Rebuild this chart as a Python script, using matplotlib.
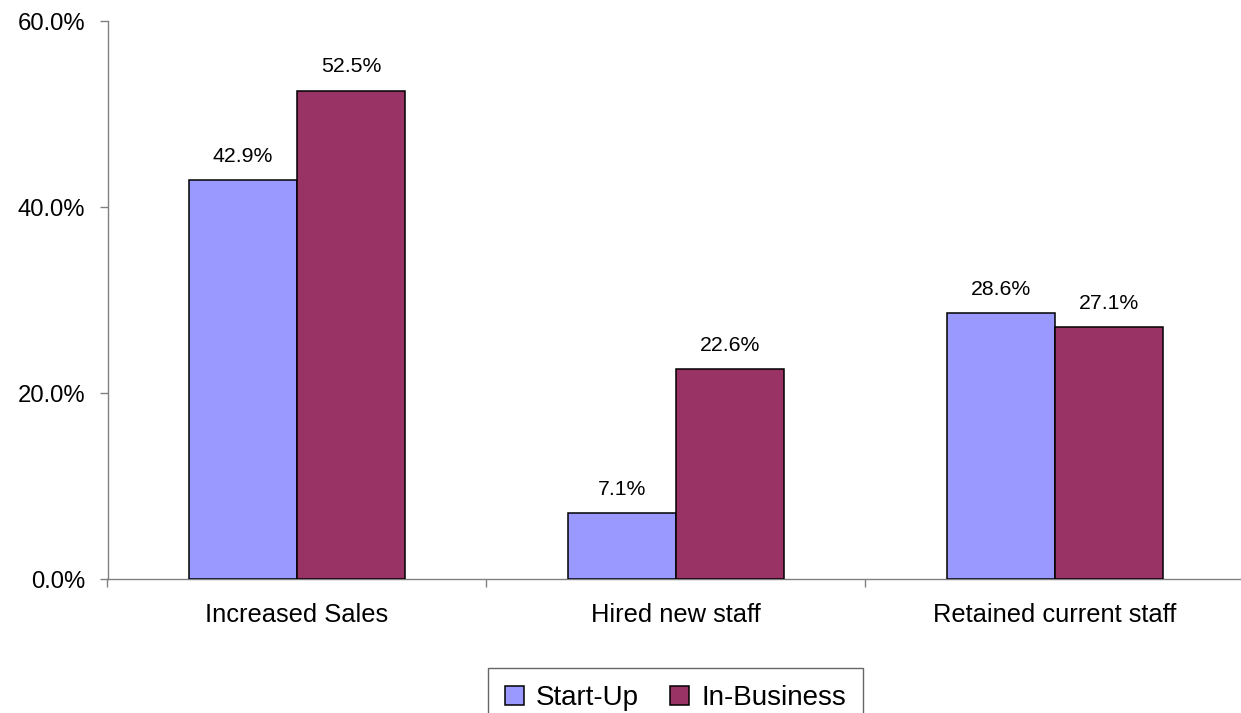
import numpy as np
import matplotlib
matplotlib.use('Agg')
import matplotlib.pyplot as plt
from matplotlib.patches import Patch
from matplotlib.ticker import FuncFormatter

categories = ['Increased Sales', 'Hired new staff', 'Retained current staff']
series_names = ['Start-Up', 'In-Business']
start_up = [42.9, 7.1, 28.6]
in_business = [52.5, 22.6, 27.1]
colors = ['#9999FF', '#993366']

plt.rcParams['font.family'] = ['Liberation Sans', 'DejaVu Sans']

W, H = 1241, 713
fig = plt.figure(figsize=(W / 100, H / 100), dpi=100)
fig.patch.set_facecolor('white')

left = 107.5 / W
right_px = 1244
bottom = (H - 579.3) / H
top = (H - 21.3) / H
ax = fig.add_axes([left, bottom, (right_px - 107.5) / W, top - bottom])

x = np.arange(len(categories))
bw = 0.285
values = [start_up, in_business]
for i, (vals, c) in enumerate(zip(values, colors)):
    b = ax.bar(x + (i - 0.5) * bw, [v / 100 for v in vals], bw,
               color=c, edgecolor='black', linewidth=1.1, zorder=3)
    ax.bar_label(b, labels=[f'{v:.1f}%' for v in vals], padding=10.5,
                 fontsize=15.3, color='black')

ax.set_xlim(-0.5, len(categories) - 0.5)
ax.set_ylim(0, 0.6)
ax.set_yticks([0, 0.2, 0.4, 0.6])
ax.yaxis.set_major_formatter(FuncFormatter(lambda v, p: f'{v * 100:.1f}%'))

# category boundaries as major ticks, labels on minor ticks
ax.set_xticks(np.arange(len(categories) + 1) - 0.5)
ax.set_xticklabels([])
ax.set_xticks(x, minor=True)
ax.set_xticklabels(categories, minor=True, fontsize=18.4)
ax.tick_params(axis='x', which='minor', length=0, pad=17)
ax.tick_params(axis='x', which='major', length=6, width=1, color='#808080',
               direction='out')
ax.tick_params(axis='y', length=6, width=1, color='#808080', direction='out',
               labelsize=17.2, pad=10)

for s in ['top', 'right']:
    ax.spines[s].set_visible(False)
for s in ['left', 'bottom']:
    ax.spines[s].set_color('#808080')
    ax.spines[s].set_linewidth(1)

handles = [Patch(facecolor=c, edgecolor='black', linewidth=1.1) for c in colors]
leg = fig.legend(handles, series_names, loc='upper center',
                 bbox_to_anchor=(675.3 / W, (H - 667.7) / H),
                 bbox_transform=fig.transFigure, ncol=2, fontsize=20,
                 frameon=True, fancybox=False, shadow=False,
                 handlelength=0.68, handleheight=0.68, handletextpad=0.43,
                 columnspacing=1.14, borderpad=0.62, borderaxespad=0)
leg.get_frame().set_edgecolor('#404040')
leg.get_frame().set_linewidth(1)

fig.savefig('out.png', dpi=100, facecolor='white')
plt.close(fig)
